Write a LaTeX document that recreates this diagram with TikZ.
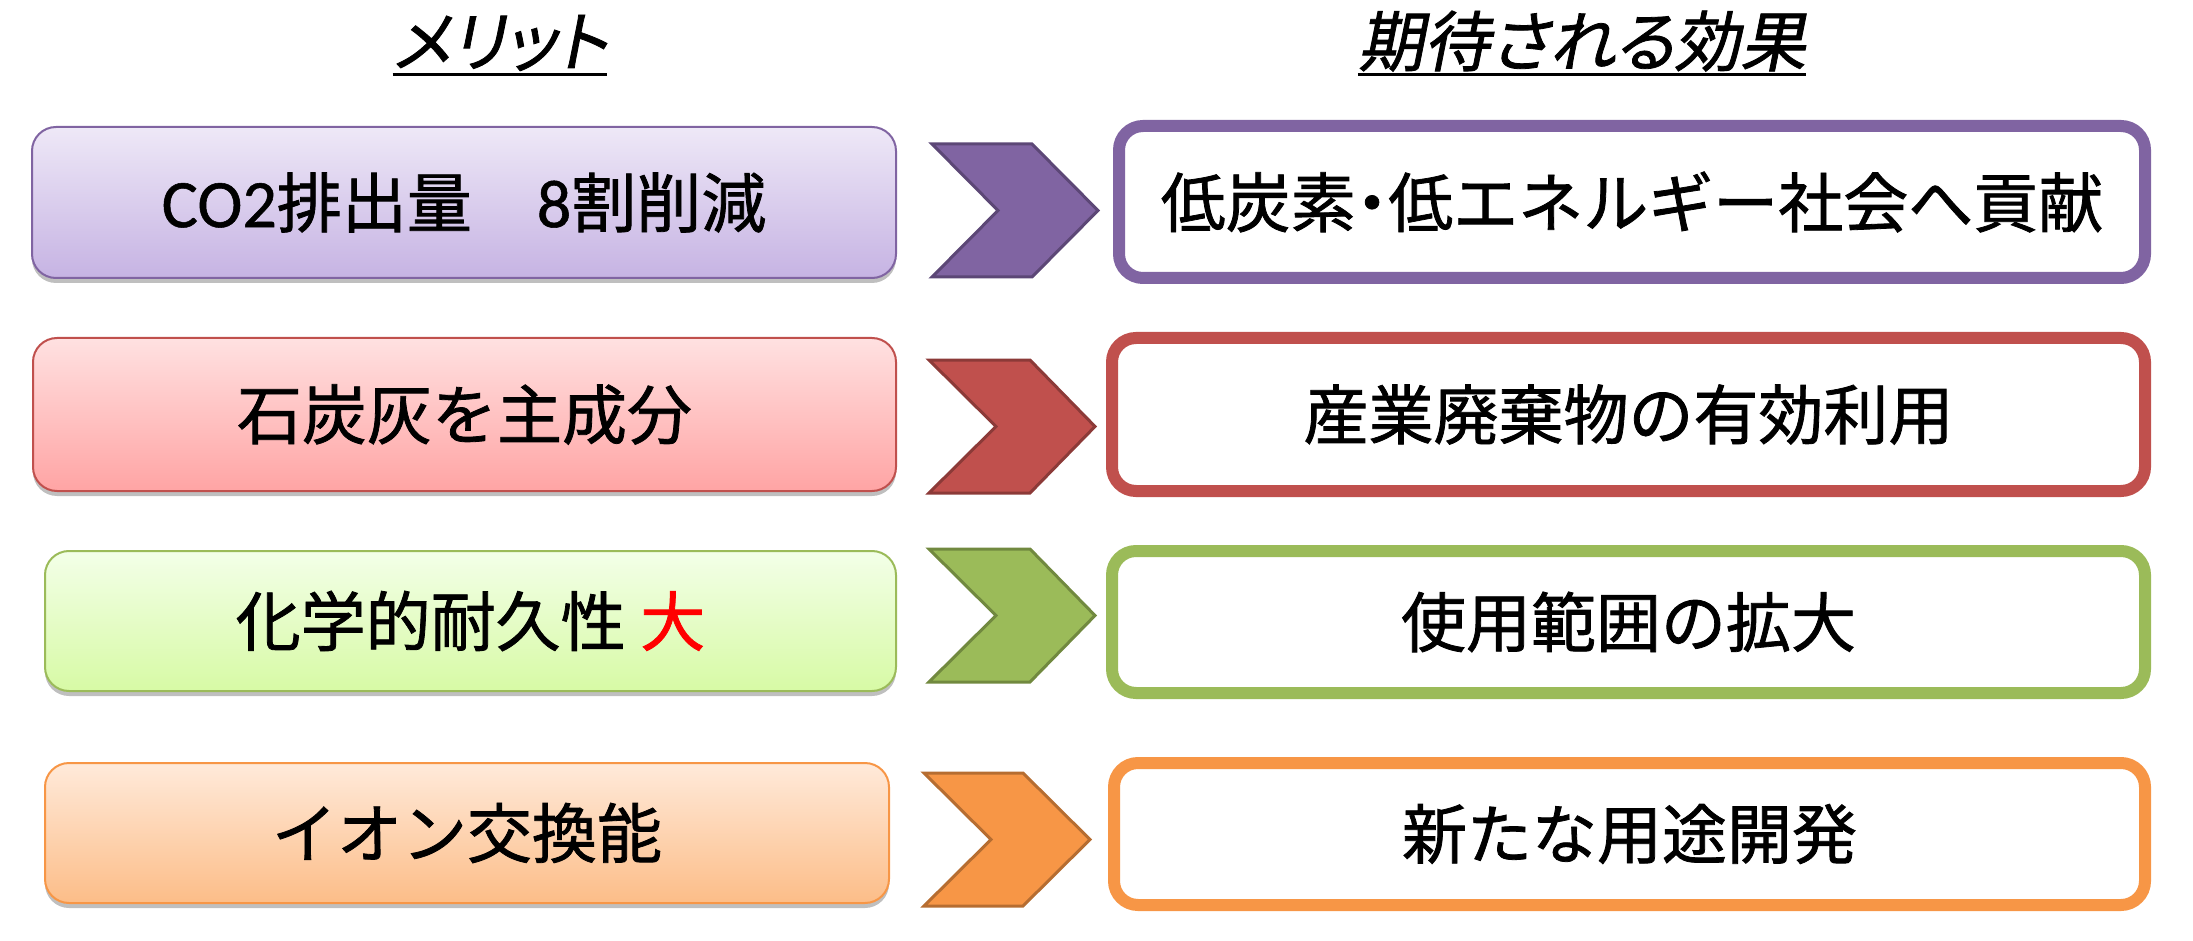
\documentclass[tikz,border=0pt]{standalone}
\usepackage{fontspec}
\usetikzlibrary{shadows}
\newfontfamily\jp[FakeBold=1.2]{Noto Sans CJK JP}
\newfontfamily\jpp[FakeBold=1.2,RawFeature=+palt]{Noto Sans CJK JP}
\newfontfamily\jpit[FakeBold=1.2,FakeSlant=0.2,RawFeature=+palt]{Noto Sans CJK JP}
\newfontfamily\lat[FakeBold=0.8]{Carlito}
\definecolor{pu}{HTML}{8064A2}
\definecolor{puD}{HTML}{5C4776}
\definecolor{puT}{HTML}{EEE8F7}
\definecolor{puB}{HTML}{C6B3E3}
\definecolor{re}{HTML}{C0504D}
\definecolor{reD}{HTML}{8C3A38}
\definecolor{reT}{HTML}{FFE1E1}
\definecolor{reB}{HTML}{FFA4A4}
\definecolor{gr}{HTML}{9BBB59}
\definecolor{grD}{HTML}{71893F}
\definecolor{grT}{HTML}{F3FFE8}
\definecolor{grB}{HTML}{D7FAA5}
\definecolor{or}{HTML}{F79646}
\definecolor{orD}{HTML}{B66D31}
\definecolor{orT}{HTML}{FFEADA}
\definecolor{orB}{HTML}{FCBD88}
\begin{document}
\begin{tikzpicture}[x=1pt,y=-1pt,
  bigfont/.style={font={\jp\fontsize{65pt}{78pt}\selectfont}},
  lbox/.style={rectangle, rounded corners=24pt, line width=2pt, bigfont,
    drop shadow={shadow xshift=0pt, shadow yshift=-5pt, opacity=0.25, fill=black}},
  rbox/.style={rectangle, rounded corners=24pt, line width=12pt, fill=white, bigfont},
  chev/.style={line width=3pt, line join=miter},
  ttl/.style={inner sep=0pt, anchor=base, font={\jpit\fontsize{66pt}{78pt}\selectfont}},
  uline/.style={line width=3pt}]
\useasboundingbox (0,0) rectangle (2193,941);

% titles
\node[ttl] (T1) at (500,66) {メリット};
\node[ttl] (T2) at (1582,66) {期待される効果};
\draw[uline] ([yshift=-9pt]T1.base west) -- ([yshift=-9pt]T1.base east);
\draw[uline] ([yshift=-9pt]T2.base west) -- ([yshift=-9pt]T2.base east);

% left boxes
\node[lbox, draw=pu, top color=puT, bottom color=puB, minimum width=864pt, minimum height=151pt] (L1) at (464,202.5)
  {{\lat\fontsize{68pt}{78pt}\selectfont CO2}排出量　{\lat\fontsize{68pt}{78pt}\selectfont 8}割削減};
\node[lbox, draw=re, top color=reT, bottom color=reB, minimum width=863pt, minimum height=153pt] (L2) at (464.5,414.5)
  {石炭灰を主成分};
\node[lbox, draw=gr, top color=grT, bottom color=grB, minimum width=851pt, minimum height=140pt] (L3) at (470.5,621)
  {化学的耐久性 \textcolor{red}{大}};
\node[lbox, draw=or, top color=orT, bottom color=orB, minimum width=844pt, minimum height=140pt] (L4) at (467,833)
  {イオン交換能};

% right boxes
\node[rbox, draw=pu, minimum width=1026pt, minimum height=152pt] (R1) at (1632,202)
  {低炭素{\jpp ・}低エネルギー社会へ貢献};
\node[rbox, draw=re, minimum width=1033pt, minimum height=153pt] (R2) at (1628.5,414.5)
  {産業廃棄物の有効利用};
\node[rbox, draw=gr, minimum width=1033pt, minimum height=142pt] (R3) at (1628.5,622)
  {使用範囲の拡大};
\node[rbox, draw=or, minimum width=1031pt, minimum height=142pt] (R4) at (1629.5,834)
  {新たな用途開発};

% chevrons
\draw[chev, fill=pu, draw=puD] (932,144) -- (1032,144) -- (1098,210.5) -- (1032,277) -- (932,277) -- (998,210.5) -- cycle;
\draw[chev, fill=re, draw=reD] (929,360) -- (1030,360) -- (1095,426.5) -- (1030,493) -- (929,493) -- (996,426.5) -- cycle;
\draw[chev, fill=gr, draw=grD] (929,549) -- (1030,549) -- (1095,615.5) -- (1030,682) -- (929,682) -- (996,615.5) -- cycle;
\draw[chev, fill=or, draw=orD] (924,773) -- (1023,773) -- (1090,839.5) -- (1023,906) -- (924,906) -- (991,839.5) -- cycle;
\end{tikzpicture}
\end{document}
